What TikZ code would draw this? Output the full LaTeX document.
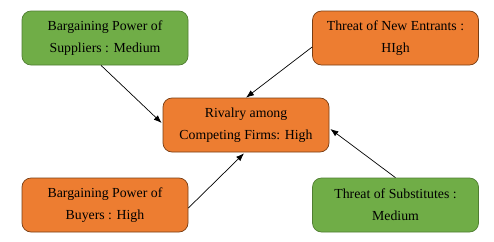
\documentclass[tikz,border=0pt]{standalone}
\usepackage{fontspec}
\setmainfont{Liberation Serif}
\usetikzlibrary{arrows.meta,calc}
\definecolor{gfill}{RGB}{112,173,71}
\definecolor{gline}{RGB}{80,126,50}
\definecolor{ofill}{RGB}{237,125,49}
\definecolor{oline}{RGB}{120,62,20}
\tikzset{
  box/.style={rounded corners=9pt, minimum width=166pt, minimum height=54pt,
    align=center, font=\fontsize{13.8}{22}\selectfont, line width=0.7pt, inner sep=0pt},
  gbox/.style={box, fill=gfill, draw=gline},
  obox/.style={box, fill=ofill, draw=oline},
  conn/.style={-{Latex[length=8pt,width=6pt]}, line width=0.7pt, black}
}
\begin{document}
\begin{tikzpicture}[x=1pt,y=-1pt]
\useasboundingbox (0,0) rectangle (494,241);
\node[gbox] (s1) at (105,38) {Bargaining Power of\\Suppliers : Medium};
\node[obox] (s2) at (395.5,38) {Threat of New Entrants :\\HIgh};
\node[obox] (c) at (246,125) {Rivalry among\\Competing Firms: High};
\node[obox] (s4) at (105,205) {Bargaining Power of\\Buyers : High};
\node[gbox] (s5) at (395.5,205) {Threat of Substitutes :\\Medium};
\draw[conn] ($(s1.south)+(-4,0)$) -- ($(c.west)+(-1,-2)$);
\draw[conn] ($(s2.west)+(0,9)$) -- (c.north);
\draw[conn] ($(s4.east)+(0,3)$) -- ($(c.south)+(-2,1)$);
\draw[conn] (s5.north) -- ($(c.east)+(1,4)$);
\end{tikzpicture}
\end{document}
